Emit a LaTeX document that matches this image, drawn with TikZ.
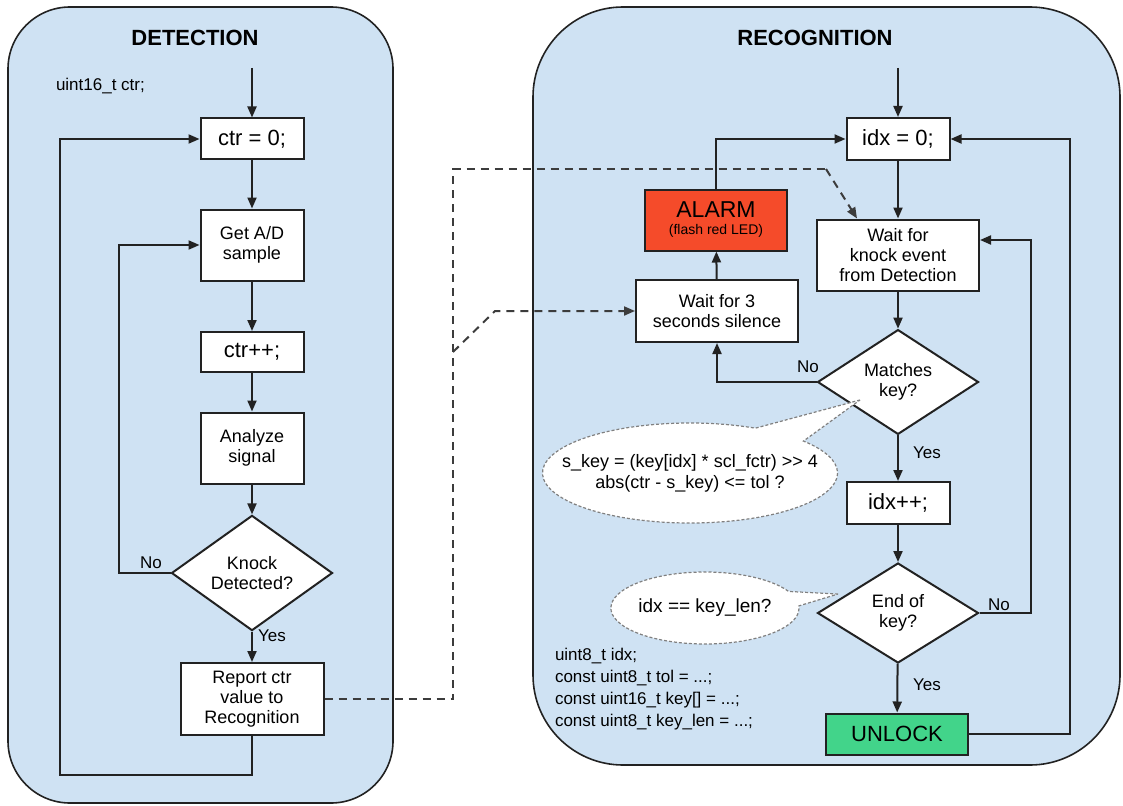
\documentclass[tikz,border=0pt]{standalone}
\usepackage{fontspec}
\setmainfont{Liberation Sans}
\usetikzlibrary{shapes.geometric,shapes.callouts,arrows.meta}
\definecolor{panelblue}{RGB}{207,226,243}
\definecolor{alarmred}{RGB}{245,75,42}
\definecolor{unlockgreen}{RGB}{66,212,138}
\definecolor{inkgray}{RGB}{34,34,34}
\definecolor{dashgray}{RGB}{60,60,60}
\begin{document}
\begin{tikzpicture}[x=1pt, y=-1pt, line width=2pt, draw=inkgray,
    panel/.style={draw=inkgray, fill=panelblue, line width=1.6pt},
    title/.style={font=\fontsize{22}{24}\selectfont\bfseries},
    box/.style={draw=inkgray, fill=white, inner sep=0, align=center, line width=2pt,
      font=\fontsize{18}{20}\selectfont},
    bigbox/.style={box, font=\fontsize{22}{24}\selectfont},
    test/.style={box, diamond, minimum width=161pt, minimum height=100pt},
    lbl/.style={font=\fontsize{17}{19}\selectfont, inner sep=0},
    code/.style={font=\fontsize{17}{22}\selectfont, inner sep=0, align=left},
    bubble/.style={ellipse callout, draw=gray, fill=white, line width=1.2pt,
      dash pattern=on 3pt off 2pt, inner sep=0, align=center, callout pointer arc=24},
    flow/.style={draw=inkgray, line width=2pt, -{Triangle[length=11pt,width=9pt]}},
    signal/.style={draw=dashgray, line width=2pt, dash pattern=on 8pt off 6pt}]
  \useasboundingbox (0,0) rectangle (1123,805);
  % PANELS
  \draw[panel, rounded corners=62pt] (8,7) rectangle (393,803);
  \draw[panel, rounded corners=90pt] (533,7) rectangle (1120,765);
  \node[title] (titleDet) at (195,38) {DETECTION};
  \node[title] (titleRec) at (815,38) {RECOGNITION};
  \node[code, anchor=west] (ctrDecl) at (55,86) {uint16\_t ctr;};
  % DETECTION LOOP
  \coordinate (entryDet) at (252,68);
  \draw (252,139) node[bigbox, minimum width=103pt, minimum height=41pt](ctrInit){ctr = 0;};
  \draw (252,245) node[box, minimum width=103pt, minimum height=71pt](getSample){Get A/D\\sample};
  \draw (252,352) node[bigbox, minimum width=103pt, minimum height=40pt](ctrInc){ctr++;};
  \draw (252,448) node[box, minimum width=103pt, minimum height=71pt](analyze){Analyze\\signal};
  \draw (252,573) node[test](knockDet){Knock\\Detected?};
  \draw (252,699) node[box, minimum width=143pt, minimum height=72pt](report){Report ctr\\value to\\Recognition};
  \coordinate (loopDet) at (60,775);
  \draw[flow] (entryDet) -- (ctrInit);
  \draw[flow] (ctrInit) -- (getSample);
  \draw[flow] (getSample) -- (ctrInc);
  \draw[flow] (ctrInc) -- (analyze);
  \draw[flow] (analyze) -- (knockDet);
  \draw[flow] (knockDet) -- (report);
  \draw[flow] (knockDet.west) -- ++(-52,0) |- (getSample.west);
  \draw[flow] (report.south) |- (loopDet) |- (ctrInit.west);
  \node[lbl] (noDet) at (151,563) {No};
  \node[lbl] (yesDet) at (272,636) {Yes};
  % RECOGNITION LOOP
  \coordinate (entryRec) at (898,68);
  \draw (898,139) node[bigbox, minimum width=103pt, minimum height=42pt](idxInit){idx = 0;};
  \draw (898,255) node[box, minimum width=162pt, minimum height=71pt](waitKnock){Wait for\\knock event\\from Detection};
  \draw (898,382) node[test](matchKey){Matches\\key?};
  \draw (898,503) node[bigbox, minimum width=103pt, minimum height=42pt](idxInc){idx++;};
  \draw (898,613) node[test](endKey){End of\\key?};
  \draw (897,734) node[bigbox, fill=unlockgreen, minimum width=142pt, minimum height=41pt](unlock){UNLOCK};
  \draw (716,220) node[box, fill=alarmred, minimum width=142pt, minimum height=61pt](alarm){{\fontsize{23}{24}\selectfont ALARM}\\[-3pt]{\fontsize{14}{15}\selectfont (flash red LED)}};
  \draw (717,311) node[box, minimum width=162pt, minimum height=62pt](waitSilence){Wait for 3\\seconds silence};
  \draw[flow] (entryRec) -- (idxInit);
  \draw[flow] (idxInit) -- (waitKnock);
  \draw[flow] (waitKnock) -- (matchKey);
  \draw[flow] (matchKey) -- (idxInc);
  \draw[flow] (idxInc) -- (endKey);
  \draw[flow] (endKey) -- (unlock);
  \draw[flow] (endKey.east) -- ++(51,0) |- ([yshift=15pt]waitKnock.east);
  \draw[flow] (unlock.east) -- ++(101,0) |- (idxInit.east);
  \draw[flow] (matchKey.west) -| (waitSilence.south);
  \draw[flow] (waitSilence) -- (alarm);
  \draw[flow] (alarm.north) |- (idxInit.west);
  \node[lbl] (noMatch) at (808,367) {No};
  \node[lbl] (yesMatch) at (927,453) {Yes};
  \node[lbl] (noEnd) at (999,605) {No};
  \node[lbl] (yesEnd) at (927,685) {Yes};
  % NOTES
  \coordinate (tipMatch) at (860,400);
  \coordinate (tipEnd) at (838,594);
  \node[bubble, minimum width=295pt, minimum height=100pt, inner xsep=-45pt, inner ysep=-8pt,
    callout absolute pointer=(tipMatch), font=\fontsize{18}{21}\selectfont] (keyNote) at (690,473)
    {s\_key = (key[idx] * scl\_fctr) >{}> 4\\abs(ctr - s\_key) <= tol ?};
  \node[bubble, minimum width=185pt, minimum height=72pt, callout absolute pointer=(tipEnd),
    font=\fontsize{19}{21}\selectfont] (lenNote) at (705,608) {idx == key\_len?};
  \node[code, anchor=north west] (recDecl) at (554,647)
    {uint8\_t idx;\\const uint8\_t tol = ...;\\const uint16\_t key[] = ...;\\const uint8\_t key\_len = ...;};
  % KNOCK SIGNAL
  \coordinate (busTop) at (453,169);
  \coordinate (busBend) at (826,169);
  \coordinate (busTap) at (453,352);
  \coordinate (tapBend) at (495,311);
  \draw[signal] (report.east) -| (busTop) -- (busBend);
  \draw[signal, -{Triangle[length=11pt,width=9pt]}] (busBend) -- ([xshift=-41pt]waitKnock.north);
  \draw[signal, -{Triangle[length=11pt,width=9pt]}] (busTap) -- (tapBend) -- (waitSilence.west);
\end{tikzpicture}
\end{document}
